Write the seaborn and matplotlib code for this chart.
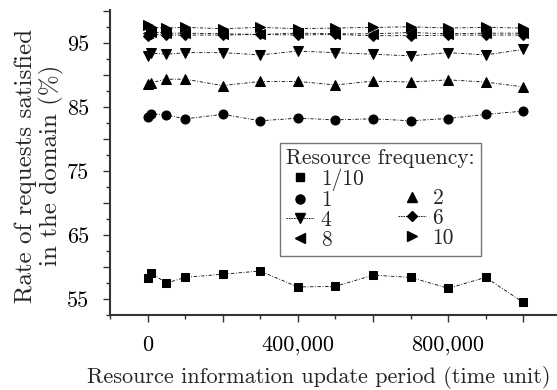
import numpy as np
import pandas as pd
import matplotlib
matplotlib.use("Agg")
import matplotlib.pyplot as plt
import seaborn as sns
from matplotlib.lines import Line2D
from matplotlib.ticker import FuncFormatter, MultipleLocator

# Dados
periodo = [1000, 10000, 50000, 100000, 200000, 300000, 400000, 500000,
           600000, 700000, 800000, 900000, 1000000]

freq_1_10 = [58.3, 59.1, 57.5, 58.4, 58.9, 59.4, 56.9, 57.0, 58.75, 58.4, 56.7, 58.4, 54.5]
freq_1 = [83.5, 84.0, 83.8, 83.2, 83.9, 82.9, 83.3, 83.05, 83.2, 82.9, 83.25, 83.9, 84.4]
freq_2 = [88.7, 88.85, 89.4, 89.4, 88.4, 89.05, 89.05, 88.5, 89.1, 88.95, 89.3, 88.95, 88.2]
freq_4 = [93.0, 93.5, 93.3, 93.55, 93.55, 93.2, 93.8, 93.55, 93.3, 93.05, 93.55, 93.2, 94.05]
freq_6 = [96.2, 96.4, 96.3, 96.3, 96.3, 96.4, 96.3, 96.4, 96.2, 96.2, 96.3, 96.3, 96.3]
freq_8 = [96.6, 96.8, 96.6, 96.6, 96.5, 96.4, 96.6, 96.5, 96.5, 96.7, 96.5, 96.6, 96.6]
freq_10 = [97.8, 97.5, 97.4, 97.5, 97.3, 97.5, 97.3, 97.4, 97.5, 97.6, 97.4, 97.5, 97.4]

rotulos = ['1/10', '1', '2', '4', '6', '8', '10']
series = [freq_1_10, freq_1, freq_2, freq_4, freq_6, freq_8, freq_10]
marcadores = ['s', 'o', '^', 'v', 'D', '<', '>']
tamanhos = [5.5, 6.5, 7.5, 7.5, 5.5, 7.5, 7.5]

sns.set_style("ticks")
plt.rcParams['font.family'] = ['cmr10', 'DejaVu Serif']
plt.rcParams['axes.formatter.use_mathtext'] = True
plt.rcParams['mathtext.fontset'] = 'cm'

fig = plt.figure(figsize=(5.57, 3.9), dpi=100)
ax = fig.add_axes([0.1975, 0.192, 0.8025, 0.782])

for rotulo, valores, m, s in zip(rotulos, series, marcadores, tamanhos):
    df = pd.DataFrame({'periodo': periodo, 'taxa': valores})
    sns.lineplot(data=df, x='periodo', y='taxa', ax=ax, color='black',
                 marker=m, markersize=s, markeredgecolor='black',
                 linewidth=0.6, linestyle=(0, (4, 2, 1, 2)),
                 estimator=None, sort=False, legend=False)

ax.set_xlim(-100000, 1090000)
ax.set_ylim(52.5, 100.2)

ax.xaxis.set_major_locator(MultipleLocator(200000))
ax.xaxis.set_minor_locator(MultipleLocator(100000))
ax.xaxis.set_major_formatter(FuncFormatter(
    lambda v, p: f"{int(v):,}" if int(v) % 400000 == 0 else ""))
ax.yaxis.set_major_locator(MultipleLocator(5))
ax.yaxis.set_minor_locator(MultipleLocator(2.5))
ax.yaxis.set_major_formatter(FuncFormatter(
    lambda v, p: f"{int(v)}" if int(round(v)) % 10 == 5 else ""))

ax.tick_params(axis='both', which='major', direction='out', length=5, width=1,
               labelsize=16, colors='#333333', labelcolor='black')
ax.tick_params(axis='both', which='minor', direction='out', length=3, width=1,
               colors='#333333')
ax.tick_params(axis='x', pad=10)
ax.tick_params(axis='y', pad=10)

for lado in ['left', 'bottom']:
    ax.spines[lado].set_linewidth(1.5)
    ax.spines[lado].set_color('#333333')
sns.despine(ax=ax)

ax.set_xlabel('Resource information update period (time unit)', fontsize=16, va='center')
ax.xaxis.set_label_coords(0.4676, -0.203)
ax.set_ylabel('Rate of requests satisfied\nin the domain (%)', fontsize=18,
              linespacing=1.1, va='center')
ax.yaxis.set_label_coords(-0.158, 0.49)

# Legenda em duas colunas
def handle(m, s, linha=False):
    return Line2D([], [], color='black', marker=m, markersize=s,
                  linestyle=(0, (2, 1)) if linha else 'None', linewidth=0.6)

vazio = Line2D([], [], linestyle='None', marker='None')
handles = [handle('s', 5.5), handle('o', 6.5), handle('v', 7.5, True), handle('<', 7.5),
           vazio, handle('^', 7.5), handle('D', 5.5, True), handle('>', 7.5)]
labels = ['1/10', '1', '4', '8', '', '2', '6', '10']
leg = ax.legend(handles, labels, ncol=2, title='Resource frequency:',
                loc='upper left', bbox_to_anchor=(0.38, 0.566),
                fontsize=15.5, title_fontsize=15.5, frameon=True, fancybox=False,
                edgecolor='#555555', handlelength=1.3, handletextpad=0.3,
                labelspacing=0.0, columnspacing=1.6, borderpad=0.3,
                borderaxespad=0)
leg.get_frame().set_linewidth(1.0)
leg._legend_box.align = 'left'

plt.savefig('out.png', dpi=100)
